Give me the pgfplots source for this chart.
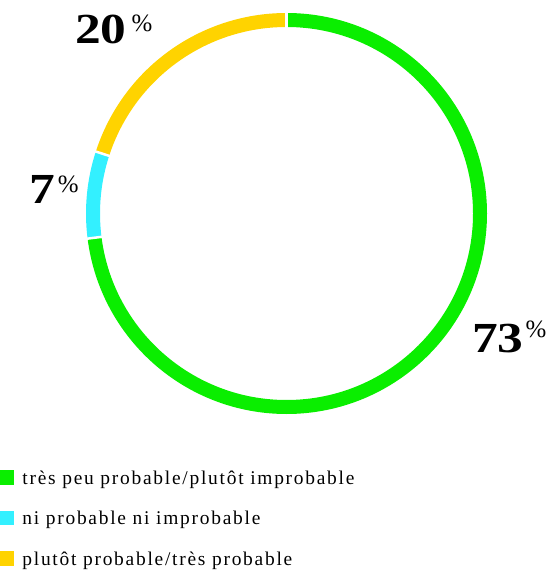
\documentclass[border=0pt]{standalone}
\usepackage{pgfplots}
\pgfplotsset{compat=1.18}
\usepackage{pgfplotstable}
\usepackage{fontspec}
\setmainfont{Liberation Serif}
\newfontfamily\numfont[FakeStretch=1.2]{Liberation Serif}
\newfontfamily\legfont[LetterSpace=9]{Liberation Serif}

\definecolor{cgreen}{RGB}{10,238,0}
\definecolor{ccyan}{RGB}{51,240,255}
\definecolor{cyellow}{RGB}{255,211,0}

\pgfplotstableread{
label value
green 73
cyan 7
yellow 20
}\donutdata

\pgfplotstablegetelem{0}{value}\of\donutdata \let\va\pgfplotsretval
\pgfplotstablegetelem{1}{value}\of\donutdata \let\vb\pgfplotsretval
\pgfplotstablegetelem{2}{value}\of\donutdata \let\vc\pgfplotsretval

\pgfmathsetmacro\aA{90}
\pgfmathsetmacro\aB{90-3.6*\va}
\pgfmathsetmacro\aC{\aB-3.6*\vb}
\pgfmathsetmacro\aD{\aC-3.6*\vc}
\def\cx{286.5}\def\cy{356.5}

\newcommand\pct[3]{{\numfont\bfseries\fontsize{43}{43}\selectfont #1}\hspace{#2}\raisebox{#3}{\fontsize{25}{25}\selectfont\%}}

\begin{document}
\begin{tikzpicture}
\begin{axis}[
  at={(0,0)}, anchor=origin,
  hide axis, scale only axis,
  width=549bp, height=570bp,
  xmin=0, xmax=549, ymin=0, ymax=570,
  clip=false,
  legend cell align=left,
  legend style={at={(axis cs:0,100)}, anchor=north west, draw=none, fill=none,
    inner sep=0pt, outer sep=0pt, row sep=22.5bp,
    font=\legfont\fontsize{19.5}{19.5}\selectfont,
    nodes={inner sep=0pt, text height=14bp, text depth=4bp},
    /tikz/every odd column/.append style={column sep=8.5bp}},
]
\draw[cgreen, line width=14bp] (axis cs:\cx,\cy) ++(\aA:193.5bp) arc[start angle=\aA, end angle=\aB, radius=193.5bp];
\draw[ccyan, line width=14bp] (axis cs:\cx,\cy) ++(\aB:193.5bp) arc[start angle=\aB, end angle=\aC, radius=193.5bp];
\draw[cyellow, line width=14bp] (axis cs:\cx,\cy) ++(\aC:193.5bp) arc[start angle=\aC, end angle=\aD, radius=193.5bp];
\draw[white, line width=2.5bp] (axis cs:\cx,\cy) ++(\aA:184bp) -- ++(\aA:19bp);
\draw[white, line width=2.5bp] (axis cs:\cx,\cy) ++(\aB:184bp) -- ++(\aB:19bp);
\draw[white, line width=2.5bp] (axis cs:\cx,\cy) ++(\aC:184bp) -- ++(\aC:19bp);
\node[anchor=base west, inner sep=0pt] at (axis cs:75,526) {\pct{20}{5bp}{12bp}};
\node[anchor=base west, inner sep=0pt] at (axis cs:29,367) {\pct{7}{3bp}{11bp}};
\node[anchor=base west, inner sep=0pt] at (axis cs:472,218) {\pct{73}{2bp}{15bp}};

\addlegendimage{legend image code/.code={\fill[cgreen] (0bp,-5bp) rectangle (13.5bp,8.5bp);}}
\addlegendentry{très peu probable/plutôt improbable}
\addlegendimage{legend image code/.code={\fill[ccyan] (0bp,-5bp) rectangle (13.5bp,8.5bp);}}
\addlegendentry{ni probable ni improbable}
\addlegendimage{legend image code/.code={\fill[cyellow] (0bp,-5bp) rectangle (13.5bp,8.5bp);}}
\addlegendentry{plutôt probable/très probable}
\end{axis}
\pgfresetboundingbox
\path (0,0) rectangle (549bp,570bp);
\end{tikzpicture}
\end{document}
